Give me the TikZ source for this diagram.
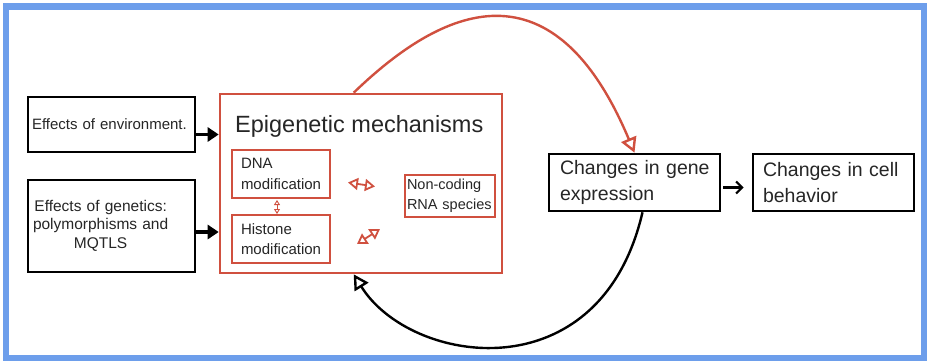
\documentclass[tikz,border=0pt]{standalone}
\usepackage{fontspec}
\setmainfont{Liberation Sans}
\usetikzlibrary{arrows.meta,calc}
\definecolor{frameblue}{HTML}{6D9EEB}
\definecolor{boxred}{HTML}{D0503F}
\definecolor{txt}{HTML}{262626}
\tikzset{
  blackbox/.style={draw=black, line width=2.6pt, inner ysep=0pt, text=txt, align=left},
  redbox/.style={draw=boxred, line width=2.6pt, inner ysep=0pt, text=txt, align=left},
  thickarrow/.style={draw=black, line width=3.2pt, -{Triangle[length=11pt,width=14pt]}},
  smallarrow/.style={draw=black, line width=2.2pt, -{Straight Barb[length=6pt,width=12pt,line width=2.2pt]}},
  redloop/.style={draw=boxred, line width=2.4pt, -{Triangle[open,length=15pt,width=16pt,line width=2.4pt]}},
  blackloop/.style={draw=black, line width=2.4pt, -{Triangle[open,length=15pt,width=16pt,line width=2.4pt]}},
  redtwo/.style={draw=boxred, line width=1.8pt, {Triangle[open,length=10pt,width=12pt,line width=1.8pt]}-{Triangle[open,length=10pt,width=12pt,line width=1.8pt]}},
  redtiny/.style={draw=boxred, line width=0.9pt, {Triangle[open,length=5pt,width=6pt,line width=0.9pt]}-{Triangle[open,length=5pt,width=6pt,line width=0.9pt]}}
}
\begin{document}
\begin{tikzpicture}[x=1pt,y=-1pt]
\useasboundingbox (0,0) rectangle (930,364);
\fill[white] (0,0) rectangle (930,364);
\draw[frameblue, line width=6.5pt] (6,6.5) rectangle (924,358);

% left boxes
\node[blackbox, minimum width=167pt, minimum height=55pt, inner xsep=4pt, text width=159pt,
  font=\fontsize{15}{18.5}\selectfont] (env) at (111.5,124.5) {\mbox{Effects of environment.}};
\node[blackbox, minimum width=167pt, minimum height=92pt, inner xsep=5pt, text width=157pt,
  font=\fontsize{15.5}{18.5}\selectfont] (gen) at (111.5,226)
  {\begin{tabular}{@{}c@{}}Effects of genetics:\\polymorphisms and\\MQTLS\end{tabular}};

% epigenetic box
\node[redbox, minimum width=282pt, minimum height=179pt] (epi) at (361,183.5) {};
\node[anchor=base west, inner sep=0pt, text=txt, font=\fontsize{23.5}{27}\selectfont] (epititle) at (235,132) {Epigenetic mechanisms};
\node[redbox, minimum width=98pt, minimum height=48pt, inner xsep=9pt, text width=80pt,
  font=\fontsize{15}{20.5}\selectfont] (dna) at (281,174) {DNA\\\mbox{modification}};
\node[redbox, minimum width=98pt, minimum height=48pt, inner xsep=9pt, text width=80pt,
  font=\fontsize{15}{20.5}\selectfont] (his) at (281,239) {Histone\\\mbox{modification}};
\node[redbox, minimum width=90pt, minimum height=42pt, inner xsep=2pt, text width=86pt,
  font=\fontsize{14.5}{20}\selectfont] (nc) at (450,196) {Non-coding\\\mbox{RNA species}};

% right boxes
\node[blackbox, minimum width=171pt, minimum height=57pt, inner xsep=11pt, text width=149pt,
  font=\fontsize{19.5}{26}\selectfont] (gene) at (634.5,182.5) {\mbox{Changes in gene}\\expression};
\node[blackbox, minimum width=161pt, minimum height=57pt, inner xsep=10pt, text width=141pt,
  font=\fontsize{19.5}{26}\selectfont] (cell) at (833.5,182.5) {\mbox{Changes in cell}\\behavior};

% arrows into epigenetic box
\draw[thickarrow] ($(env.east)+(0,10)$) -- ($(epi.west |- env.east)+(0,10)$);
\draw[thickarrow] ($(gen.east)+(0,6)$) -- ($(epi.west |- gen.east)+(0,6)$);

% gene -> cell
\draw[smallarrow, shorten <=2pt, shorten >=8pt] ($(gene.east)+(0,5)$) -- ($(cell.west)+(0,5)$);

% loops
\draw[redloop] ($(epi.north west)+(135,0)$) .. controls (425,24) and (546,-58) .. (gene.north);
\draw[blackloop] ($(gene.south)+(8,0)$) .. controls (600,395) and (410,365) .. ($(epi.south west)+(135,0)$);

% small double arrows
\coordinate (a1s) at (348,182.5);
\coordinate (a1e) at (375,186.5);
\coordinate (a2s) at (357,244);
\coordinate (a2e) at (380,229);
\coordinate (a3s) at (277,200);
\coordinate (a3e) at (277,214);
\draw[redtwo] (a1s) -- (a1e);
\draw[redtwo] (a2s) -- (a2e);
\draw[redtiny] (a3s) -- (a3e);
\end{tikzpicture}
\end{document}
